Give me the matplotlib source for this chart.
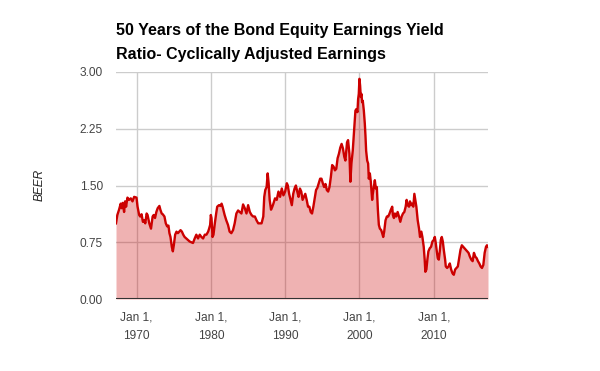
import matplotlib
matplotlib.use("Agg")
import matplotlib.pyplot as plt

plt.rcParams['font.family'] = ['Liberation Sans', 'DejaVu Sans']

# decimal years and BEER values
years = [
    1967.24, 1967.42, 1967.65, 1967.87, 1968.01, 1968.14, 1968.33, 1968.46, 1968.60, 1968.78,
    1969.00, 1969.23, 1969.46, 1969.68, 1970.00, 1970.14, 1970.36, 1970.50, 1970.68, 1970.86,
    1971.04, 1971.18, 1971.36, 1971.49, 1971.72, 1971.95, 1972.17, 1972.31, 1972.49, 1972.67,
    1972.85, 1973.08, 1973.21, 1973.39, 1973.53, 1973.76, 1973.94, 1974.12, 1974.30, 1974.43,
    1974.57, 1974.75, 1974.89, 1975.02, 1975.20, 1975.38, 1975.57, 1975.75, 1975.93, 1976.11,
    1976.29, 1976.47, 1976.70, 1976.92, 1977.15, 1977.38, 1977.60, 1977.83, 1978.05, 1978.28,
    1978.51, 1978.73, 1978.96, 1979.19, 1979.41, 1979.64, 1979.77, 1979.91, 1980.00, 1980.09,
    1980.23, 1980.36, 1980.54, 1980.72, 1980.86, 1981.09, 1981.27, 1981.45, 1981.58, 1981.86,
    1982.08, 1982.31, 1982.53, 1982.76, 1982.99, 1983.21, 1983.44, 1983.67, 1983.89, 1984.12,
    1984.34, 1984.57, 1984.80, 1985.02, 1985.25, 1985.48, 1985.70, 1985.93, 1986.15, 1986.38,
    1986.61, 1986.83, 1987.06, 1987.19, 1987.33, 1987.51, 1987.65, 1987.78, 1987.92, 1988.10,
    1988.28, 1988.42, 1988.64, 1988.87, 1989.10, 1989.32, 1989.55, 1989.77, 1990.00, 1990.23,
    1990.36, 1990.54, 1990.77, 1990.90, 1991.09, 1991.27, 1991.45, 1991.63, 1991.81, 1991.99,
    1992.17, 1992.35, 1992.53, 1992.71, 1992.90, 1993.08, 1993.26, 1993.44, 1993.62, 1993.80,
    1993.98, 1994.16, 1994.34, 1994.52, 1994.71, 1994.89, 1995.07, 1995.25, 1995.43, 1995.61,
    1995.79, 1995.97, 1996.15, 1996.33, 1996.52, 1996.70, 1996.88, 1997.06, 1997.24, 1997.42,
    1997.60, 1997.78, 1997.96, 1998.11, 1998.33, 1998.47, 1998.65, 1998.78, 1998.92, 1999.10,
    1999.28, 1999.46, 1999.59, 1999.73, 1999.82, 1999.91, 2000.00, 2000.09, 2000.18, 2000.27,
    2000.36, 2000.45, 2000.59, 2000.72, 2000.81, 2000.90, 2001.04, 2001.17, 2001.26, 2001.40,
    2001.53, 2001.71, 2001.80, 2001.94, 2002.07, 2002.21, 2002.34, 2002.48, 2002.61, 2002.75,
    2002.93, 2003.06, 2003.20, 2003.33, 2003.51, 2003.69, 2003.87, 2004.05, 2004.23, 2004.41,
    2004.50, 2004.64, 2004.77, 2004.95, 2005.14, 2005.32, 2005.50, 2005.68, 2005.86, 2006.04,
    2006.22, 2006.35, 2006.49, 2006.67, 2006.80, 2006.94, 2007.07, 2007.25, 2007.39, 2007.52,
    2007.66, 2007.84, 2008.02, 2008.15, 2008.33, 2008.47, 2008.65, 2008.78, 2008.87, 2009.01,
    2009.14, 2009.28, 2009.46, 2009.64, 2009.82, 2010.00, 2010.14, 2010.27, 2010.41, 2010.54,
    2010.68, 2010.81, 2010.95, 2011.08, 2011.22, 2011.35, 2011.53, 2011.62, 2011.80, 2011.98,
    2012.16, 2012.34, 2012.52, 2012.70, 2012.88, 2013.06, 2013.24, 2013.42, 2013.60, 2013.78,
    2013.96, 2014.14, 2014.32, 2014.50, 2014.68, 2014.86, 2015.05, 2015.23, 2015.41, 2015.59,
    2015.77, 2015.95, 2016.13, 2016.31, 2016.49, 2016.67, 2016.85, 2017.03, 2017.16, 2017.30,
]
beer = [
    1.00, 1.11, 1.18, 1.26, 1.20, 1.27, 1.15, 1.29, 1.22, 1.34,
    1.31, 1.33, 1.29, 1.35, 1.34, 1.22, 1.11, 1.09, 1.12, 1.02,
    1.04, 1.00, 1.13, 1.11, 1.00, 0.93, 1.09, 1.11, 1.07, 1.15,
    1.20, 1.23, 1.18, 1.13, 1.12, 1.09, 1.00, 0.96, 0.97, 0.87,
    0.82, 0.69, 0.63, 0.71, 0.85, 0.89, 0.87, 0.89, 0.91, 0.89,
    0.85, 0.82, 0.80, 0.78, 0.76, 0.75, 0.74, 0.80, 0.85, 0.80,
    0.85, 0.82, 0.80, 0.85, 0.85, 0.89, 0.93, 0.98, 1.11, 1.07,
    0.82, 0.85, 1.00, 1.13, 1.22, 1.24, 1.23, 1.26, 1.22, 1.11,
    1.04, 0.98, 0.89, 0.87, 0.91, 1.00, 1.13, 1.17, 1.15, 1.13,
    1.25, 1.20, 1.13, 1.24, 1.15, 1.11, 1.09, 1.09, 1.04, 1.00,
    1.00, 1.00, 1.09, 1.35, 1.44, 1.48, 1.66, 1.53, 1.31, 1.18,
    1.22, 1.26, 1.33, 1.31, 1.42, 1.35, 1.46, 1.37, 1.42, 1.53,
    1.50, 1.39, 1.29, 1.24, 1.39, 1.46, 1.50, 1.42, 1.35, 1.46,
    1.42, 1.31, 1.35, 1.39, 1.31, 1.22, 1.22, 1.15, 1.13, 1.22,
    1.33, 1.44, 1.47, 1.53, 1.59, 1.59, 1.53, 1.48, 1.52, 1.44,
    1.42, 1.48, 1.61, 1.77, 1.75, 1.70, 1.72, 1.86, 1.92, 2.00,
    2.05, 1.99, 1.88, 1.83, 2.07, 2.10, 1.92, 1.55, 1.79, 1.96,
    2.23, 2.49, 2.51, 2.47, 2.64, 2.71, 2.91, 2.82, 2.67, 2.71,
    2.60, 2.62, 2.49, 2.32, 2.16, 1.96, 1.83, 1.79, 1.59, 1.66,
    1.55, 1.31, 1.39, 1.48, 1.57, 1.46, 1.48, 1.18, 0.98, 0.93,
    0.91, 0.87, 0.82, 0.89, 1.04, 1.09, 1.09, 1.13, 1.18, 1.22,
    1.11, 1.07, 1.13, 1.09, 1.15, 1.09, 1.02, 1.09, 1.13, 1.15,
    1.22, 1.31, 1.24, 1.22, 1.29, 1.24, 1.26, 1.22, 1.39, 1.31,
    1.22, 1.04, 0.93, 0.82, 0.89, 0.82, 0.69, 0.52, 0.36, 0.39,
    0.52, 0.63, 0.67, 0.69, 0.76, 0.78, 0.82, 0.74, 0.63, 0.54,
    0.52, 0.63, 0.78, 0.82, 0.76, 0.65, 0.52, 0.43, 0.41, 0.43,
    0.47, 0.39, 0.34, 0.32, 0.39, 0.41, 0.43, 0.54, 0.65, 0.71,
    0.69, 0.67, 0.65, 0.63, 0.61, 0.56, 0.52, 0.50, 0.61, 0.56,
    0.54, 0.50, 0.47, 0.43, 0.41, 0.45, 0.61, 0.69, 0.71, 0.69,
]

y_ticks = [0.0, 0.75, 1.5, 2.25, 3.0]
x_ticks = [1970, 1980, 1990, 2000, 2010]
x_labels = ["Jan 1,\n1970", "Jan 1,\n1980", "Jan 1,\n1990", "Jan 1,\n2000", "Jan 1,\n2010"]

fig = plt.figure(figsize=(6, 3.71), dpi=100)
ax = fig.add_axes([116 / 600, 72 / 371, 372 / 600, 227 / 371])

ax.fill_between(years, beer, 0, color='#cc0000', alpha=0.3, lw=0, zorder=2)
ax.plot(years, beer, color='#cc0000', lw=1.7, zorder=3)
ax.axhline(0, color='#333333', lw=1.5, zorder=4)

ax.set_xlim(years[0], years[-1])
ax.set_ylim(0, 3)
ax.set_yticks(y_ticks)
ax.set_yticklabels([f"{t:.2f}" for t in y_ticks])
ax.set_xticks(x_ticks)
ax.set_xticklabels(x_labels, linespacing=1.75)
ax.grid(True, color='#cccccc', lw=1, zorder=1)
ax.set_axisbelow(True)
for s in ax.spines.values():
    s.set_visible(False)
ax.tick_params(axis='both', length=0, labelsize=8.6, colors='#444444')
ax.tick_params(axis='y', pad=9.5)
ax.tick_params(axis='x', pad=9)

fig.text(116 / 600, 1 - 30 / 371, "50 Years of the Bond Equity Earnings Yield",
         fontsize=11.5, fontweight='bold', va='center', ha='left')
fig.text(116 / 600, 1 - 54 / 371, "Ratio- Cyclically Adjusted Earnings",
         fontsize=11.5, fontweight='bold', va='center', ha='left')
fig.text(40 / 600, 1 - 185 / 371, "BEER", rotation=90, style='italic',
         fontsize=8.6, color='#222222', va='center', ha='center')

fig.savefig("out.png", dpi=100)
